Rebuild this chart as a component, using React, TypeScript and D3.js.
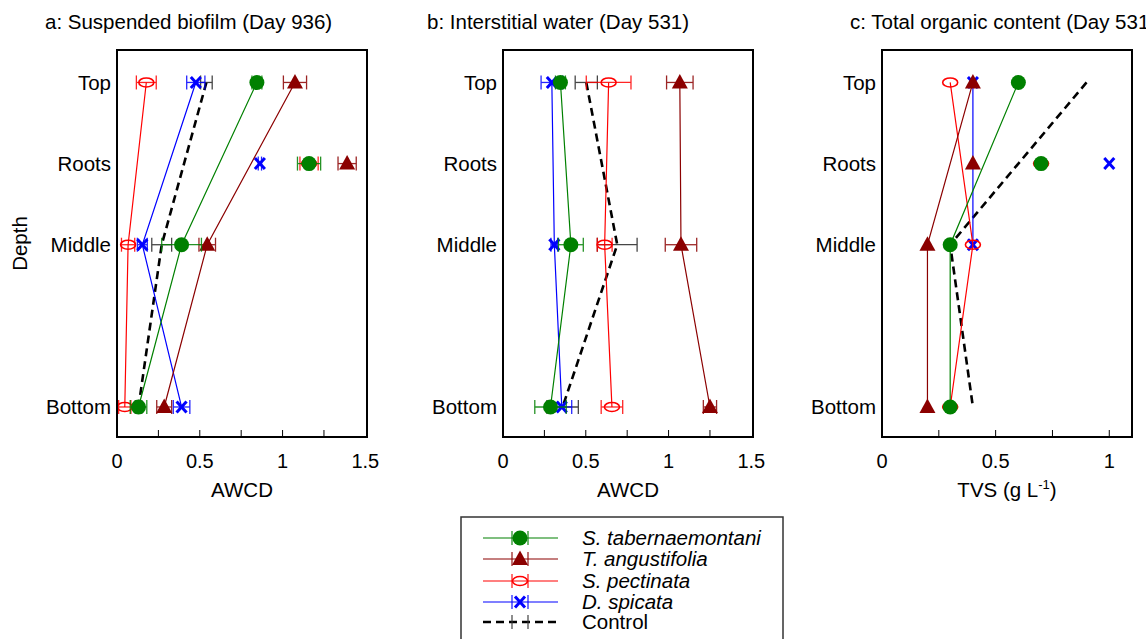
import React from 'react';
import * as d3 from 'd3';

const depths = ['Top', 'Roots', 'Middle', 'Bottom'];
const depthPos = [0, 1, 2, 4];

const seriesNames = ['S. tabernaemontani', 'T. angustifolia', 'S. pectinata', 'D. spicata', 'Control'];
const seriesColors = ['#008000', '#8b0000', '#ff0000', '#0000ff', '#000000'];
const seriesMarkers = ['circle', 'triangle', 'ellipse', 'x', 'none'];

// Panel a: Suspended biofilm (Day 936), AWCD
const aTabMean = [0.845, 1.16, 0.39, 0.13];
const aTabErr = [0.03, 0.07, 0.12, 0.05];
const aAngMean = [1.075, 1.39, 0.545, 0.285];
const aAngErr = [0.07, 0.055, 0.05, 0.045];
const aPecMean = [0.177, 1.16, 0.067, 0.047];
const aPecErr = [0.06, 0.055, 0.04, 0.037];
const aSpiMean = [0.476, 0.863, 0.153, 0.39];
const aSpiErr = [0.055, 0.01, 0.03, 0.05];
const aConMean = [0.54, null, 0.27, 0.13];
const aConErr = [0.035, null, 0.06, 0.02];

// Panel b: Interstitial water (Day 531), AWCD
const bTabMean = [0.347, null, 0.41, 0.287];
const bTabErr = [0.03, null, 0.075, 0.095];
const bAngMean = [1.068, null, 1.075, 1.25];
const bAngErr = [0.08, null, 0.095, 0.04];
const bPecMean = [0.638, null, 0.614, 0.658];
const bPecErr = [0.135, null, 0.045, 0.065];
const bSpiMean = [0.295, null, 0.31, 0.355];
const bSpiErr = [0.065, null, 0.02, 0.06];
const bConMean = [0.503, null, 0.69, 0.36];
const bConErr = [0.067, null, 0.12, 0.095];

// Panel c: Total organic content (Day 531), TVS
const cTabMean = [0.6, 0.7, 0.3, 0.3];
const cAngMean = [0.4, 0.4, 0.2, 0.2];
const cPecMean = [0.3, 0.7, 0.4, 0.3];
const cSpiMean = [0.4, 1.0, 0.4, null];
const cConMean = [0.9, null, 0.3, 0.4];
const cZeroErr = [0, 0, 0, 0];

const aTicks = [0, 0.25, 0.5, 0.75, 1, 1.25, 1.5];
const aTickLabels = ['0', '', '0.5', '', '1', '', '1.5'];
const cTicks = [0, 0.25, 0.5, 0.75, 1];
const cTickLabels = ['0', '', '0.5', '', '1'];

const FONT = '"Liberation Sans", Arial, Helvetica, sans-serif';

type Panel = {
  title: string;
  titleX: number;
  left: number;
  xmax: number;
  ticks: number[];
  tickLabels: string[];
  xlabel: 'AWCD' | 'TVS';
  means: (number | null)[][];
  errs: (number | null)[][];
  depthLabel: boolean;
};

const panels: Panel[] = [
  {
    title: 'a: Suspended biofilm (Day 936)', titleX: 45, left: 117, xmax: 1.51,
    ticks: aTicks, tickLabels: aTickLabels, xlabel: 'AWCD',
    means: [aTabMean, aAngMean, aPecMean, aSpiMean, aConMean],
    errs: [aTabErr, aAngErr, aPecErr, aSpiErr, aConErr], depthLabel: true,
  },
  {
    title: 'b: Interstitial water (Day 531)', titleX: 427, left: 503, xmax: 1.51,
    ticks: aTicks, tickLabels: aTickLabels, xlabel: 'AWCD',
    means: [bTabMean, bAngMean, bPecMean, bSpiMean, bConMean],
    errs: [bTabErr, bAngErr, bPecErr, bSpiErr, bConErr], depthLabel: false,
  },
  {
    title: 'c: Total organic content (Day 531)', titleX: 850, left: 882, xmax: 1.1,
    ticks: cTicks, tickLabels: cTickLabels, xlabel: 'TVS',
    means: [cTabMean, cAngMean, cPecMean, cSpiMean, cConMean],
    errs: [cZeroErr, cZeroErr, cZeroErr, cZeroErr, cZeroErr], depthLabel: false,
  },
];

const PW = 250;
const PT = 50;
const PB = 437;

function Marker({ kind, x, y, color }: { kind: string; x: number; y: number; color: string }) {
  if (kind === 'circle') return <circle cx={x} cy={y} r={7.5} fill={color} />;
  if (kind === 'triangle')
    return <path d={`M${x},${y - 8.5}L${x + 8},${y + 6}L${x - 8},${y + 6}Z`} fill={color} />;
  if (kind === 'ellipse')
    return <ellipse cx={x} cy={y} rx={7.5} ry={4.5} fill="none" stroke={color} strokeWidth={1.6} />;
  if (kind === 'x')
    return (
      <g stroke={color} strokeWidth={3}>
        <line x1={x - 5} y1={y - 5.5} x2={x + 5} y2={y + 5.5} />
        <line x1={x - 5} y1={y + 5.5} x2={x + 5} y2={y - 5.5} />
      </g>
    );
  return null;
}

function PanelView({ p }: { p: Panel }) {
  const x = d3.scaleLinear().domain([0, p.xmax]).range([p.left, p.left + PW]);
  const y = d3.scaleLinear().domain([-0.4, 4.37]).range([PT, PB]);
  const order = [4, 3, 2, 1, 0];
  const line = d3
    .line<[number, number]>()
    .x((d) => x(d[0]))
    .y((d) => y(d[1]));
  return (
    <g>
      <text x={p.titleX} y={29} fontSize={20.5} fontFamily={FONT}>{p.title}</text>
      {depths.map((d, i) => (
        <text key={d} x={p.left - 6} y={y(depthPos[i])} dy="0.35em" textAnchor="end" fontSize={20.5} fontFamily={FONT}>
          {d}
        </text>
      ))}
      {order.map((si) => {
        const m = p.means[si];
        const e = p.errs[si];
        const col = seriesColors[si];
        const isCon = si === 4;
        const pts: [number, number][] = [];
        m.forEach((v, i) => {
          if (v !== null && i !== 1) pts.push([v, depthPos[i]]);
        });
        const errCol = isCon ? '#333333' : col;
        return (
          <g key={si}>
            <path
              d={line(pts) || ''}
              fill="none"
              stroke={col}
              strokeWidth={isCon ? 2.6 : 1.2}
              strokeDasharray={isCon ? '8,5' : undefined}
            />
            {m.map((v, i) => {
              const ev = e[i];
              if (v === null || ev === null || ev === 0) return null;
              const yy = y(depthPos[i]);
              const x0 = x(v - ev);
              const x1 = x(v + ev);
              return (
                <g key={i} stroke={errCol} strokeWidth={1.3} opacity={isCon ? 0.9 : 0.85}>
                  <line x1={x0} y1={yy} x2={x1} y2={yy} />
                  <line x1={x0} y1={yy - 7} x2={x0} y2={yy + 7} />
                  <line x1={x1} y1={yy - 7} x2={x1} y2={yy + 7} />
                </g>
              );
            })}
            {m.map((v, i) =>
              v === null ? null : (
                <Marker key={'m' + i} kind={seriesMarkers[si]} x={x(v)} y={y(depthPos[i])} color={col} />
              )
            )}
          </g>
        );
      })}
      <rect x={p.left} y={PT} width={PW} height={PB - PT} fill="none" stroke="#000" strokeWidth={2} />
      {p.ticks.map((t, i) => (
        <g key={'t' + i}>
          {t > 0 && t < p.xmax - 0.02 && (
            <line x1={x(t)} x2={x(t)} y1={PB} y2={PB - 7} stroke="#000" strokeWidth={1} />
          )}
          {p.tickLabels[i] && (
            <text x={x(t)} y={468} textAnchor="middle" fontSize={20} fontFamily={FONT}>
              {p.tickLabels[i]}
            </text>
          )}
        </g>
      ))}
      {p.xlabel === 'AWCD' ? (
        <text x={p.left + PW / 2} y={497} textAnchor="middle" fontSize={20.5} fontFamily={FONT}>AWCD</text>
      ) : (
        <text x={p.left + PW / 2} y={497} textAnchor="middle" fontSize={20.5} fontFamily={FONT}>
          TVS (g L<tspan fontSize={13} dy={-8}>-1</tspan><tspan dy={8}>)</tspan>
        </text>
      )}
      {p.depthLabel && (
        <text
          transform={`translate(27,${(PT + PB) / 2}) rotate(-90)`}
          textAnchor="middle"
          fontSize={20.5}
          fontFamily={FONT}
        >
          Depth
        </text>
      )}
    </g>
  );
}

function Legend() {
  const rowsY = [538, 559, 581, 602, 622];
  return (
    <g>
      <rect x={461} y={517} width={322} height={140} fill="#fff" stroke="#333" strokeWidth={1.5} />
      {seriesNames.map((n, i) => {
        const yy = rowsY[i];
        const col = seriesColors[i];
        const isCon = i === 4;
        const errCol = isCon ? '#333333' : col;
        return (
          <g key={n}>
            <line
              x1={483}
              x2={558}
              y1={yy}
              y2={yy}
              stroke={col}
              strokeWidth={isCon ? 2.6 : 1.2}
              strokeDasharray={isCon ? '8,5' : undefined}
            />
            <g stroke={errCol} strokeWidth={1.3} opacity={0.85}>
              <line x1={512} x2={512} y1={yy - 7} y2={yy + 7} />
              <line x1={528} x2={528} y1={yy - 7} y2={yy + 7} />
            </g>
            <Marker kind={seriesMarkers[i]} x={520} y={yy} color={col} />
            <text
              x={582}
              y={yy}
              dy="0.35em"
              fontSize={20.5}
              fontFamily={FONT}
              fontStyle={isCon ? 'normal' : 'italic'}
            >
              {n}
            </text>
          </g>
        );
      })}
    </g>
  );
}

export default function App() {
  return (
    <svg
      width={1146}
      height={639}
      viewBox="0 0 1146 639"
      style={{ position: 'absolute', left: 0, top: 0, background: '#fff' }}
    >
      <rect x={0} y={0} width={1146} height={639} fill="#fff" />
      {panels.map((p, i) => (
        <PanelView key={i} p={p} />
      ))}
      <Legend />
    </svg>
  );
}
